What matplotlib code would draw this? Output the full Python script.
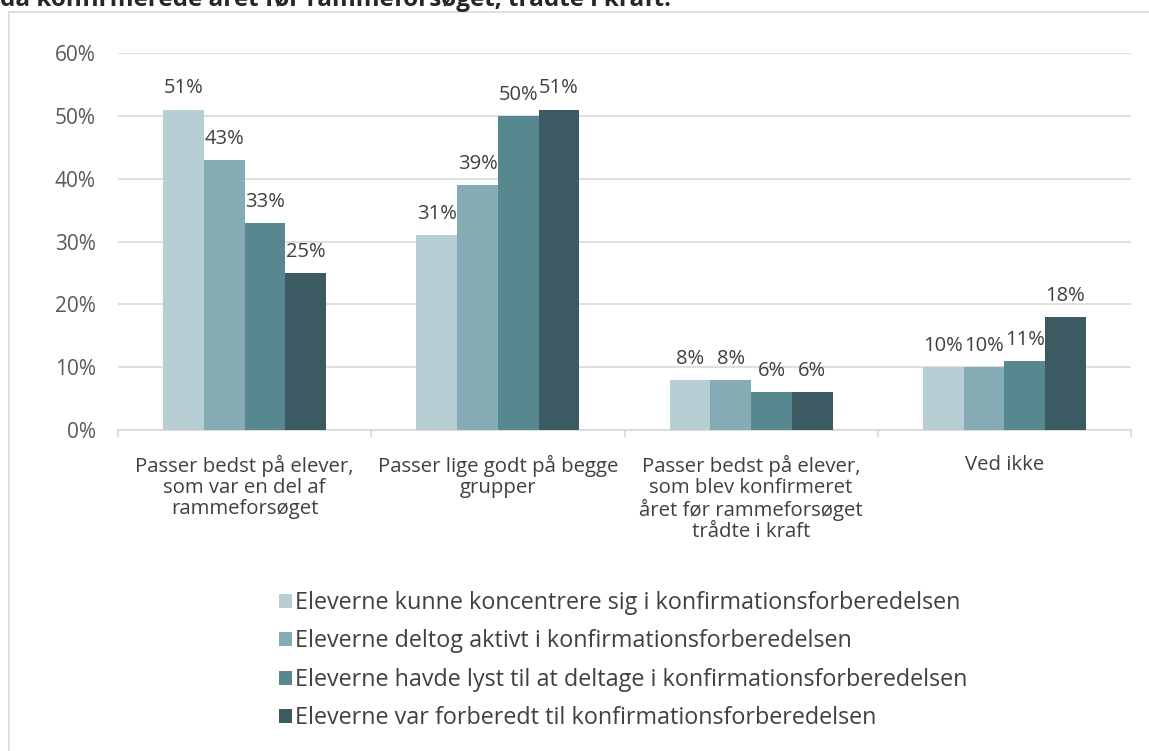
import numpy as np
import matplotlib.pyplot as plt
from matplotlib.patches import Rectangle
from matplotlib.ticker import FixedLocator, PercentFormatter

categories = [
    "Passer bedst på elever,\nsom var en del af\nrammeforsøget",
    "Passer lige godt på begge\ngrupper",
    "Passer bedst på elever,\nsom blev konfirmeret\nåret før rammeforsøget\ntrådte i kraft",
    "Ved ikke",
]
series_names = [
    "Eleverne kunne koncentrere sig i konfirmationsforberedelsen",
    "Eleverne deltog aktivt i konfirmationsforberedelsen",
    "Eleverne havde lyst til at deltage i konfirmationsforberedelsen",
    "Eleverne var forberedt til konfirmationsforberedelsen",
]
concentrate = [51, 31, 8, 10]
active = [43, 39, 8, 10]
desire = [33, 50, 6, 11]
prepared = [25, 51, 6, 18]
series = [concentrate, active, desire, prepared]
colors = ["#B7CED4", "#85ABB4", "#578890", "#3B5A62"]

plt.rcParams["font.family"] = ["Open Sans", "DejaVu Sans"]
text_col = "#595959"

fig = plt.figure(figsize=(11.49, 7.51), dpi=100)
fig.patches.append(Rectangle((9 / 1149, -0.05), 1.0, 1 - 12 / 751 + 0.05,
                             transform=fig.transFigure, fill=False,
                             edgecolor="#D9D9D9", linewidth=1.2))
fig.text(0.0, 1 - 5.5 / 751, "da konfirmerede året før rammeforsøget, trådte i kraft.",
         fontsize=17.5, fontweight="bold", color="#262626", va="baseline", ha="left")

ax = fig.add_axes([118 / 1149, 1 - 430 / 751, (1131 - 118) / 1149, (430 - 53) / 751])

x = np.arange(len(categories))
w = 0.161
for i, (vals, c, name) in enumerate(zip(series, colors, series_names)):
    pos = x + (i - 1.5) * w
    ax.bar(pos, vals, width=w, color=c, label=name, zorder=3)
    for p, v in zip(pos, vals):
        ax.annotate(f"{v}%", xy=(p, v), xytext=(0, 8), textcoords="offset points",
                    ha="center", va="bottom", fontsize=14.5, color="#404040")

ax.set_xlim(-0.5, len(categories) - 0.5)
ax.set_ylim(0, 60)
ax.yaxis.set_major_locator(FixedLocator(range(0, 61, 10)))
ax.yaxis.set_major_formatter(PercentFormatter(decimals=0))
ax.grid(axis="y", color="#D9D9D9", linewidth=1.2, zorder=0)
for s in ["top", "right", "left"]:
    ax.spines[s].set_visible(False)
ax.spines["bottom"].set_color("#D9D9D9")
ax.spines["bottom"].set_linewidth(1.2)
ax.tick_params(axis="y", length=0, labelsize=15, labelcolor=text_col, pad=16)
ax.set_xticks(x)
ax.set_xticklabels(categories, fontsize=14.7, color="#404040", linespacing=1.07)
ax.tick_params(axis="x", which="major", length=0, pad=18)
ax.set_xticks(np.arange(-0.5, len(categories), 1.0), minor=True)
ax.tick_params(axis="x", which="minor", length=5, color="#D9D9D9", width=1.2)

handles, labels = ax.get_legend_handles_labels()
fig.legend(handles, labels, loc="upper left", bbox_to_anchor=(258 / 1149, 1 - 570 / 751),
           frameon=False, fontsize=16.8, handlelength=0.55, handleheight=0.55,
           handletextpad=0.15, labelspacing=0.62, labelcolor="#404040")

fig.savefig("out.png", dpi=100)
